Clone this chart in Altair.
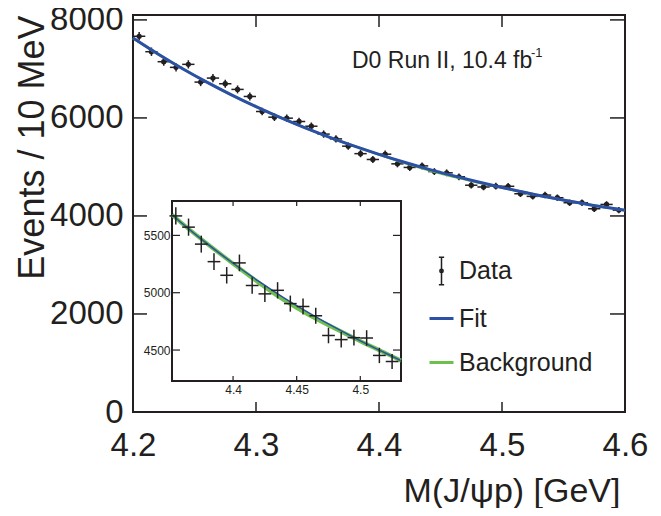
import altair as alt
import pandas as pd

# ---------------- data ----------------
mass = [4.205, 4.215, 4.225, 4.235, 4.245, 4.255, 4.265, 4.275, 4.285, 4.295,
        4.305, 4.315, 4.325, 4.335, 4.345, 4.355, 4.365, 4.375, 4.385, 4.395,
        4.405, 4.415, 4.425, 4.435, 4.445, 4.455, 4.465, 4.475, 4.485, 4.495,
        4.505, 4.515, 4.525, 4.535, 4.545, 4.555, 4.565, 4.575, 4.585, 4.595]
events = [7666, 7351, 7147, 7032, 7093, 6731, 6813, 6697, 6582, 6438,
          6131, 6015, 5995, 5927, 5831, 5670, 5572, 5424, 5271, 5152,
          5260, 5063, 4990, 5021, 4905, 4880, 4799, 4627, 4591, 4608,
          4605, 4453, 4400, 4426, 4372, 4270, 4270, 4147, 4235, 4119]
errors = [88, 86, 85, 84, 84, 82, 83, 82, 81, 80,
          78, 78, 77, 77, 76, 75, 75, 74, 73, 72,
          73, 71, 71, 71, 70, 70, 69, 68, 68, 68,
          68, 67, 66, 67, 66, 65, 65, 64, 65, 64]
half_bin = 0.005

curve_mass = [4.20, 4.22, 4.24, 4.26, 4.28, 4.30, 4.32, 4.34, 4.352, 4.36, 4.38,
              4.40, 4.42, 4.44, 4.46, 4.48, 4.50, 4.52, 4.532, 4.54, 4.56, 4.58, 4.60]
fit_vals = [7630, 7308, 7008, 6730, 6471, 6230, 6006, 5798, 5680, 5604, 5424,
            5257, 5101, 4956, 4822, 4697, 4580, 4472, 4408, 4372, 4278, 4191, 4115]
bkg_vals = [7630, 7308, 7008, 6730, 6471, 6230, 6006, 5798, 5680, 5604, 5424,
            5254, 5089, 4936, 4804, 4689, 4578, 4472, 4408, 4372, 4278, 4191, 4115]

main_x_ticks = [4.2, 4.3, 4.4, 4.5, 4.6]
main_y_ticks = [0, 2000, 4000, 6000, 8000]
inset_x_ticks = [4.4, 4.45, 4.5]
inset_y_ticks = [4500, 5000, 5500]
legend_labels = ["Data", "Fit", "Background"]
annotation = "D0 Run II, 10.4 fb"
annotation_sup = "-1"

# ---------------- styling / layout ----------------
FONT = "Liberation Sans"
INK = "#231f20"
BLUE = "#2b50a6"
GREEN = "#6dc04b"
W, H = 492, 397
MAIN_X = [4.2, 4.6]
MAIN_Y = [0, 8100]
INSET_X = [4.352, 4.532]
INSET_Y = [4230, 5800]
INSET_PX_X = [39, 268]
INSET_PX_Y = [366, 186]

pts = pd.DataFrame({"x": mass, "y": events, "err": errors})
pts["lo"] = pts["y"] - pts["err"]
pts["hi"] = pts["y"] + pts["err"]
pts["xlo"] = pts["x"] - half_bin
pts["xhi"] = pts["x"] + half_bin
curves = pd.DataFrame({"x": curve_mass, "fit": fit_vals, "bkg": bkg_vals})

# ---------------- main panel ----------------
xs_main = alt.Scale(domain=MAIN_X, nice=False, zero=False)
ys_main = alt.Scale(domain=MAIN_Y, nice=False, zero=False)

x_main_axis = alt.Axis(
    values=main_x_ticks, format=".1f", labelFontSize=33, labelPadding=17,
    labelFlush=False, labelOverlap=False, ticks=False, tickSize=0, domain=False, grid=False,
    title="M(J/ψp) [GeV]", titleFontSize=34, titleFontWeight="normal",
    titleX=W - 5, titleY=89, titleAlign="right", titleBaseline="alphabetic")
y_main_axis = alt.Axis(
    values=main_y_ticks, format="d", labelFontSize=33, labelPadding=10,
    labelFlush=False, labelOverlap=False, ticks=False, tickSize=0, domain=False, grid=False,
    title="Events / 10 MeV", titleFontSize=36, titleFontWeight="normal",
    titleX=-90, titleY=0, titleAlign="right", titleBaseline="alphabetic")
x_main = alt.X("x:Q", scale=xs_main, axis=x_main_axis, title="M(J/ψp) [GeV]")

base = alt.Chart(pts)
m_vbar = base.mark_rule(color=INK, strokeWidth=1.5).encode(
    x=x_main, y=alt.Y("lo:Q", scale=ys_main, axis=y_main_axis, title="Events / 10 MeV"), y2="hi:Q")
m_hbar = base.mark_rule(color=INK, strokeWidth=1.5).encode(x="xlo:Q", x2="xhi:Q", y="y:Q")
m_dots = base.mark_circle(color=INK, size=28, opacity=1).encode(x="x:Q", y="y:Q")
m_bkg = alt.Chart(curves).mark_line(color=GREEN, strokeWidth=2.5, interpolate="monotone").encode(
    x="x:Q", y="bkg:Q")
m_fit = alt.Chart(curves).mark_line(color=BLUE, strokeWidth=3, interpolate="monotone").encode(
    x="x:Q", y="fit:Q")

xt = pd.DataFrame({"x": main_x_ticks[1:-1]})
yt = pd.DataFrame({"y": main_y_ticks[1:]})
m_xt_b = alt.Chart(xt).mark_rule(color=INK, strokeWidth=1.5).encode(
    x="x:Q", y=alt.value(H), y2=alt.value(H - 10))
m_xt_t = alt.Chart(xt).mark_rule(color=INK, strokeWidth=1.5).encode(
    x="x:Q", y=alt.value(0), y2=alt.value(12))
m_yt_l = alt.Chart(yt).mark_rule(color=INK, strokeWidth=1.5).encode(
    y="y:Q", x=alt.value(0), x2=alt.value(14))
m_yt_r = alt.Chart(yt).mark_rule(color=INK, strokeWidth=1.5).encode(
    y="y:Q", x=alt.value(W - 15), x2=alt.value(W))

# legend (driven by a clipped helper layer)
DATA_PATH = ("M0,-1.15L0,1.15M-0.22,-1.15L0.22,-1.15M-0.22,1.15L0.22,1.15"
             "M-0.14,0A0.14,0.14 0 1,1 0.14,0A0.14,0.14 0 1,1 -0.14,0Z")
leg_df = pd.DataFrame({"series": legend_labels, "x": [4.0] * 3, "y": [4000] * 3})
leg = alt.Legend(orient="none", legendX=295, legendY=243, title=None,
                 labelFontSize=25, labelFont=FONT, labelColor=INK, labelLimit=400,
                 symbolSize=576, rowPadding=17, labelOffset=4, padding=0,
                 symbolOpacity=1)
m_leg = alt.Chart(leg_df).mark_point(clip=True, filled=False, size=10).encode(
    x="x:Q", y="y:Q",
    color=alt.Color("series:N", scale=alt.Scale(domain=legend_labels, range=[INK, BLUE, GREEN]), legend=leg),
    shape=alt.Shape("series:N", scale=alt.Scale(domain=legend_labels, range=[DATA_PATH, "stroke", "stroke"]), legend=leg),
    strokeWidth=alt.StrokeWidth("series:N", scale=alt.Scale(type="ordinal", domain=legend_labels, range=[1.5, 3, 3]), legend=leg),
)

ann_df = pd.DataFrame({"t": [annotation]})
m_ann = alt.Chart(ann_df).mark_text(align="left", baseline="alphabetic", fontSize=23, font=FONT, color=INK).encode(
    x=alt.value(219), y=alt.value(53), text="t:N")
sup_df = pd.DataFrame({"t": [annotation_sup]})
m_sup = alt.Chart(sup_df).mark_text(align="left", baseline="alphabetic", fontSize=13, font=FONT, color=INK).encode(
    x=alt.value(398), y=alt.value(42), text="t:N")

main = alt.layer(m_vbar, m_hbar, m_dots, m_bkg, m_fit, m_xt_b, m_xt_t, m_yt_l, m_yt_r, m_leg, m_ann, m_sup)

# ---------------- inset ----------------
ins_pts = pts[(pts["x"] > INSET_X[0]) & (pts["x"] < INSET_X[1])]
ins_curves = curves[(curves["x"] >= INSET_X[0]) & (curves["x"] <= INSET_X[1])]
xs_in = alt.Scale(domain=INSET_X, range=INSET_PX_X, nice=False, zero=False)
ys_in = alt.Scale(domain=INSET_Y, range=INSET_PX_Y, nice=False, zero=False)
x_in_axis = alt.Axis(
    orient="bottom", offset=-(H - INSET_PX_Y[0]), values=inset_x_ticks, format="~g",
    labelFontSize=12, labelPadding=3, labelFlush=False, labelOverlap=False,
    ticks=False, tickSize=0, domain=False, grid=False, title=None)
y_in_axis = alt.Axis(
    orient="left", offset=-INSET_PX_X[0], values=inset_y_ticks, format="d",
    labelFontSize=12, labelPadding=2, labelFlush=False, labelOverlap=False,
    ticks=False, tickSize=0, domain=False, grid=False, title=None)

i_frame = alt.Chart(pd.DataFrame({"a": [0]})).mark_rect(fill="white", stroke=INK, strokeWidth=2).encode(
    x=alt.X(datum=INSET_X[0], scale=xs_in, axis=x_in_axis, title=None),
    x2=alt.X2(datum=INSET_X[1]),
    y=alt.Y(datum=INSET_Y[0], scale=ys_in, axis=y_in_axis, title=None),
    y2=alt.Y2(datum=INSET_Y[1]))
ib = alt.Chart(ins_pts)
i_vbar = ib.mark_rule(color=INK, strokeWidth=1.5).encode(x="x:Q", y="lo:Q", y2="hi:Q")
i_hbar = ib.mark_rule(color=INK, strokeWidth=1.5).encode(x="xlo:Q", x2="xhi:Q", y="y:Q")
i_bkg = alt.Chart(ins_curves).mark_line(color=GREEN, strokeWidth=4, interpolate="monotone").encode(x="x:Q", y="bkg:Q")
i_fit = alt.Chart(ins_curves).mark_line(color=BLUE, strokeWidth=1.5, interpolate="monotone").encode(x="x:Q", y="fit:Q")

ixt = pd.DataFrame({"x": inset_x_ticks})
iyt = pd.DataFrame({"y": inset_y_ticks})
i_xt_b = alt.Chart(ixt).mark_rule(color=INK, strokeWidth=1.2).encode(
    x="x:Q", y=alt.value(INSET_PX_Y[0]), y2=alt.value(INSET_PX_Y[0] - 5))
i_xt_t = alt.Chart(ixt).mark_rule(color=INK, strokeWidth=1.2).encode(
    x="x:Q", y=alt.value(INSET_PX_Y[1]), y2=alt.value(INSET_PX_Y[1] + 5))
i_yt_l = alt.Chart(iyt).mark_rule(color=INK, strokeWidth=1.2).encode(
    y="y:Q", x=alt.value(INSET_PX_X[0]), x2=alt.value(INSET_PX_X[0] + 8))
i_yt_r = alt.Chart(iyt).mark_rule(color=INK, strokeWidth=1.2).encode(
    y="y:Q", x=alt.value(INSET_PX_X[1] - 8), x2=alt.value(INSET_PX_X[1]))

inset = alt.layer(i_frame, i_bkg, i_fit, i_vbar, i_hbar, i_xt_b, i_xt_t, i_yt_l, i_yt_r)

chart = alt.layer(main, inset).resolve_scale(x="independent", y="independent").properties(
    width=W, height=H,
    autosize=alt.AutoSizeParams(type="none"),
    padding={"left": 125, "top": 7, "right": 28, "bottom": 96},
).configure(font=FONT, background="white").configure_view(
    stroke=INK, strokeWidth=2
).configure_axis(labelColor=INK, titleColor=INK, labelFont=FONT, titleFont=FONT)

chart.save("out.html", embed_options={"renderer": "svg", "actions": False})
